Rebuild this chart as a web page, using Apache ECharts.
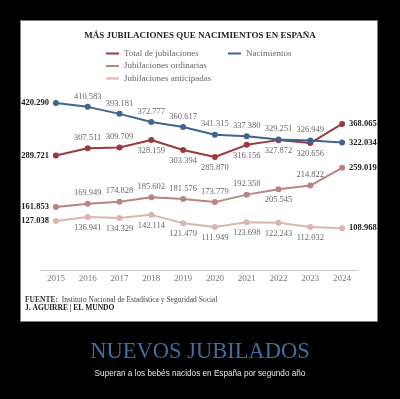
<!DOCTYPE html>
<html>
<head>
<meta charset="utf-8">
<script src="https://cdn.jsdelivr.net/npm/echarts@6/dist/echarts.min.js"></script>
<style>
  * { margin: 0; padding: 0; }
  body { background: #000; }
</style>
</head>
<body>
<div id="chart" style="width:400px;height:399px;"></div>
<script>
  // datos
  var years = ['2015', '2016', '2017', '2018', '2019', '2020', '2021', '2022', '2023', '2024'];
  var totalJub = [289721, 307511, 309709, 328159, 303394, 285870, 316156, 327872, 320656, 368065];
  var nacimientos = [420290, 410583, 393181, 372777, 360617, 341315, 337380, 329251, 326949, 322034];
  var ordinarias = [161853, 169949, 174828, 185602, 181576, 173779, 192358, 205545, 214822, 259019];
  var anticipadas = [127038, 136941, 134329, 142114, 121479, 111949, 123698, 122243, 112032, 108968];

  // donde va cada etiqueta (arriba / abajo)
  var posTotal = ['top', 'top', 'top', 'bottom', 'bottom', 'bottom', 'bottom', 'bottom', 'bottom', 'top'];
  var posNac = ['top', 'top', 'top', 'top', 'top', 'top', 'top', 'top', 'top', 'top'];
  var posOrd = ['top', 'top', 'top', 'top', 'top', 'top', 'top', 'bottom', 'top', 'top'];
  var posAnt = ['bottom', 'bottom', 'bottom', 'bottom', 'bottom', 'bottom', 'bottom', 'bottom', 'bottom', 'bottom'];

  var serif = '"Liberation Serif", "DejaVu Serif", serif';

  function fmt(v) {
    return String(v).replace(/\B(?=(\d{3})+(?!\d))/g, '.');
  }

  function buildData(values, pos) {
    return values.map(function (v, i) {
      var last = values.length - 1;
      var lbl = { position: pos[i] };
      if (i === 0 || i === last) {
        lbl = {
          position: i === 0 ? 'left' : 'right',
          fontWeight: 'bold',
          color: '#1a1a1a',
          distance: 4
        };
      }
      return { value: v, label: lbl };
    });
  }

  function line(name, color, values, pos) {
    return {
      name: name,
      type: 'line',
      data: buildData(values, pos),
      symbol: 'circle',
      symbolSize: 6,
      lineStyle: { width: 2, color: color },
      itemStyle: { color: color },
      label: {
        show: true,
        formatter: function (p) { return fmt(p.value); },
        fontFamily: serif,
        fontSize: 8.5,
        color: '#666',
        distance: 3
      },
      animation: false
    };
  }

  var chart = echarts.init(document.getElementById('chart'));
  chart.setOption({
    backgroundColor: '#000',
    color: ['#9a3a3f', '#b88580', '#dbb5ae', '#3f6490'],
    graphic: [
      {
        type: 'rect',
        shape: { x: 20.5, y: 20.5, width: 357, height: 301 },
        style: { fill: '#fff', stroke: '#7a7f88', lineWidth: 1 },
        z: -10
      },
      {
        type: 'text',
        left: 25, top: 296,
        style: {
          text: '{b|FUENTE:}  Instituto Nacional de Estadística y Seguridad Social',
          rich: { b: { fontWeight: 'bold', fontFamily: serif, fontSize: 7.5, fill: '#333' } },
          font: '7.5px ' + serif,
          fill: '#444'
        }
      },
      {
        type: 'text',
        left: 25, top: 304,
        style: {
          text: 'J. AGUIRRE | EL MUNDO',
          font: 'bold 7.5px ' + serif,
          fill: '#222'
        }
      },
      {
        type: 'text',
        left: 'center', top: 341,
        style: {
          text: 'NUEVOS JUBILADOS',
          font: '22.5px ' + serif,
          fill: '#3f6fa2'
        }
      },
      {
        type: 'text',
        left: 'center', top: 370,
        style: {
          text: 'Superan a los bebés nacidos en España por segundo año',
          font: '8.2px "Liberation Sans", Arial, sans-serif',
          fill: '#e6e6e6'
        }
      }
    ],
    title: {
      text: 'MÁS JUBILACIONES QUE NACIMIENTOS EN ESPAÑA',
      left: 'center',
      top: 26,
      textStyle: { fontFamily: serif, fontSize: 9, fontWeight: 'bold', color: '#222' }
    },
    legend: [
      {
        data: ['Total de jubilaciones', 'Jubilaciones ordinarias', 'Jubilaciones anticipadas'],
        orient: 'vertical',
        left: 101, top: 43,
        icon: 'rect',
        itemWidth: 13, itemHeight: 2,
        itemGap: 1.5,
        textStyle: { fontFamily: serif, fontSize: 9, color: '#666', lineHeight: 11 }
      },
      {
        data: ['Nacimientos'],
        left: 223, top: 43,
        icon: 'rect',
        itemWidth: 13, itemHeight: 2,
        textStyle: { fontFamily: serif, fontSize: 9, color: '#666', lineHeight: 11 }
      }
    ],
    grid: { left: 40, right: 42, top: 91, bottom: 129 },
    xAxis: {
      type: 'category',
      data: years,
      boundaryGap: true,
      axisLine: { lineStyle: { color: '#ccc' } },
      axisTick: { inside: false, length: 4, lineStyle: { color: '#ccc' } },
      axisLabel: { fontFamily: serif, fontSize: 9, color: '#777', margin: 4 }
    },
    yAxis: {
      type: 'value',
      min: 5000,
      max: 450000,
      show: false
    },
    series: [
      line('Total de jubilaciones', '#9a3a3f', totalJub, posTotal),
      line('Jubilaciones ordinarias', '#b88580', ordinarias, posOrd),
      line('Jubilaciones anticipadas', '#dbb5ae', anticipadas, posAnt),
      line('Nacimientos', '#3f6490', nacimientos, posNac)
    ]
  });
</script>
</body>
</html>
